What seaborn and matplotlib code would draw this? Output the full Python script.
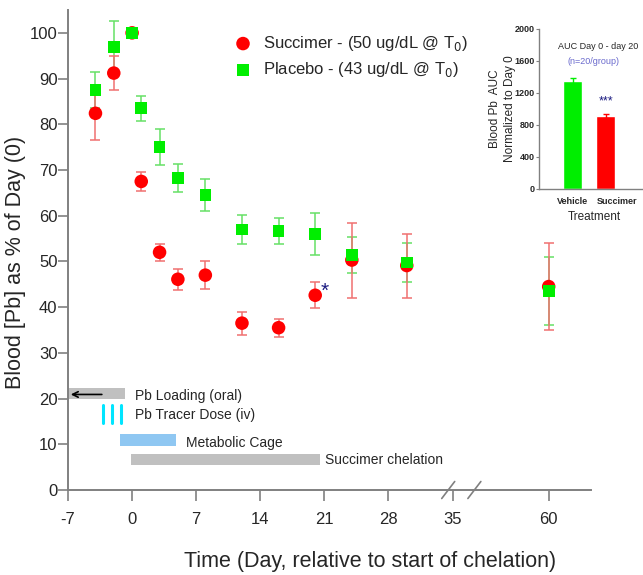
import numpy as np
import pandas as pd
import seaborn as sns
import matplotlib.pyplot as plt
import matplotlib.transforms as mtransforms
from matplotlib.patches import Rectangle

# --------------------------
# Dados
# --------------------------
days = [-4, -2, 0, 1, 3, 5, 8, 12, 16, 20, 24, 30, 60]
succ_mean = [82.4, 91.2, 100, 67.5, 52.0, 46.1, 47.0, 36.5, 35.5, 42.6, 50.3, 49.1, 44.5]
succ_err = [5.8, 3.8, 0.0, 2.1, 1.8, 2.3, 3.0, 2.5, 2.0, 2.8, 8.2, 7.0, 9.5]
plac_mean = [87.5, 96.9, 100, 83.5, 75.0, 68.2, 64.5, 57.0, 56.7, 56.0, 51.4, 49.8, 43.5]
plac_err = [4.0, 5.8, 0.0, 2.7, 4.0, 3.1, 3.5, 3.2, 2.9, 4.6, 4.0, 4.2, 7.4]

x_ticks = [-7, 0, 7, 14, 21, 28, 35, 60]
y_ticks = [0, 10, 20, 30, 40, 50, 60, 70, 80, 90, 100]

auc_groups = ['Vehicle', 'Succimer']
auc_mean = [1352, 910]
auc_err = [40, 25]

RED = '#ff0000'
GREEN = '#00ee00'
GRAY_BAR = '#c0c0c0'
AXIS_GRAY = '#808080'

sns.set_style('ticks')
plt.rcParams['font.family'] = ['Liberation Sans', 'DejaVu Sans']

# --------------------------
# Eixo x quebrado: compressão depois do dia 35
# --------------------------
K = 0.42


def fwd(x):
    x = np.asarray(x, dtype=float)
    return np.where(x <= 35, x, 35 + (x - 35) * K)


def inv(x):
    x = np.asarray(x, dtype=float)
    return np.where(x <= 35, x, 35 + (x - 35) / K)


fig = plt.figure(figsize=(6.43, 5.75), dpi=100)
ax = fig.add_axes([68 / 643, 1 - 490 / 575, 523 / 643, 480 / 575])
ax.set_xscale('function', functions=(fwd, inv))

df_s = pd.DataFrame({'day': days, 'val': succ_mean, 'err': succ_err})
df_p = pd.DataFrame({'day': days, 'val': plac_mean, 'err': plac_err})

ax.errorbar(df_p['day'], df_p['val'], yerr=df_p['err'], fmt='none',
            ecolor='#66e066', elinewidth=1.1, capsize=3.5, capthick=1.1, zorder=2)
ax.errorbar(df_s['day'], df_s['val'], yerr=df_s['err'], fmt='none',
            ecolor='#f07070', elinewidth=1.1, capsize=3.5, capthick=1.1, zorder=2)
sns.scatterplot(data=df_s, x='day', y='val', color=RED, marker='o', s=95,
                edgecolor='none', ax=ax, zorder=3,
                label='Succimer - (50 ug/dL @ T$_0$)')
sns.scatterplot(data=df_p, x='day', y='val', color=GREEN, marker='s', s=70,
                edgecolor='none', ax=ax, zorder=4,
                label='Placebo - (43 ug/dL @ T$_0$)')

ax.text(20.6, 43.5, '*', color='#1a1a80', fontsize=15, ha='left', va='center')

ax.set_xlim(-7, 71)
ax.set_ylim(0, 105)
ax.set_xticks(x_ticks)
ax.set_xticklabels([str(t) for t in x_ticks])
ax.set_yticks(y_ticks)
ax.tick_params(axis='x', labelsize=12, length=8, width=1.2, color=AXIS_GRAY, pad=8)
ax.tick_params(axis='y', labelsize=12, length=7, width=1.2, color=AXIS_GRAY, pad=0.5)
for s in ['top', 'right']:
    ax.spines[s].set_visible(False)
for s in ['left', 'bottom']:
    ax.spines[s].set_color(AXIS_GRAY)
    ax.spines[s].set_linewidth(1.4)

ax.set_xlabel('Time (Day, relative to start of chelation)', fontsize=15.5)
ax.xaxis.set_label_coords((370 - 68) / 523, -(551 - 490) / 480)
ax.set_ylabel('Blood [Pb] as % of Day (0)', fontsize=15.5)
ax.yaxis.set_label_coords((26 - 68) / 523, (490 - 262) / 480)

# marcas de quebra do eixo
for xf in [0.727, 0.777]:
    ax.plot([xf - 0.0124, xf + 0.0124], [-0.0177, 0.0177], transform=ax.transAxes,
            color=AXIS_GRAY, lw=1.2, clip_on=False)

leg = ax.legend(loc='upper left', bbox_to_anchor=(0.29, 0.964), frameon=False,
                fontsize=12, handletextpad=0.2, labelspacing=0.45, borderaxespad=0)

# --------------------------
# Linha do tempo do protocolo
# --------------------------
ax.add_patch(Rectangle((-7, 19.8), 6.2, 2.6, color=GRAY_BAR, lw=0, zorder=1))
ax.annotate('', xy=(-7, 20.9), xytext=(-3, 20.9),
            arrowprops=dict(arrowstyle='->', color='black', lw=1.2), zorder=2)
ax.text(0.3, 20.5, 'Pb Loading (oral)', fontsize=10, va='center', ha='left')

for xd in [-3.2, -2.2, -1.2]:
    ax.plot([xd, xd], [14.7, 18.6], color='#00e5ff', lw=2.2, zorder=2)
ax.text(0.3, 16.3, 'Pb Tracer Dose (iv)', fontsize=10, va='center', ha='left')

ax.add_patch(Rectangle((-1.3, 9.7), 6.1, 2.5, color='#8fc7f2', lw=0, zorder=1))
ax.text(5.9, 10.3, 'Metabolic Cage', fontsize=10, va='center', ha='left')

ax.add_patch(Rectangle((-0.1, 5.5), 20.6, 2.4, color=GRAY_BAR, lw=0, zorder=1))
ax.text(21.1, 6.5, 'Succimer chelation', fontsize=10, va='center', ha='left')

# --------------------------
# Inset: AUC
# --------------------------
ax2 = fig.add_axes([539 / 643, 1 - 189 / 575, 110 / 643, 160 / 575])
df_auc = pd.DataFrame({'grp': auc_groups, 'auc': auc_mean, 'err': auc_err})
sns.barplot(data=df_auc, x='grp', y='auc', hue='grp', palette=[GREEN, RED],
            width=0.57, ax=ax2, legend=False, saturation=1)
for i, (m, e, c) in enumerate(zip(auc_mean, auc_err, [GREEN, RED])):
    ax2.errorbar(i, m, yerr=e, fmt='none', ecolor=c, elinewidth=1, capsize=2.5)
ax2.set_xlim(-1.02, 2.3)
ax2.set_ylim(0, 2000)
ax2.set_yticks([0, 400, 800, 1200, 1600, 2000])
ax2.tick_params(axis='both', labelsize=6.5, length=2, width=0.8, color=AXIS_GRAY, pad=1)
ax2.tick_params(axis='x', length=0, pad=6, labelsize=6.5)
for lbl in ax2.get_xticklabels() + ax2.get_yticklabels():
    lbl.set_fontweight('bold')
# o rótulo "Succimer" fica um pouco deslocado à direita
xt = ax2.get_xticklabels()[1]
xt.set_transform(xt.get_transform() + mtransforms.ScaledTranslation(0.11, 0, fig.dpi_scale_trans))
for s in ['top', 'right']:
    ax2.spines[s].set_visible(False)
for s in ['left', 'bottom']:
    ax2.spines[s].set_color(AXIS_GRAY)
    ax2.spines[s].set_linewidth(1)
ax2.set_xlabel('Treatment', fontsize=8.5, labelpad=3)
ax2.set_ylabel('Blood Pb  AUC\nNormalized to Day 0', fontsize=8.5, labelpad=-1,
               linespacing=1.35)
ax2.text(0.76, 1780, 'AUC Day 0 - day 20', fontsize=6.5, ha='center', va='center')
ax2.text(0.64, 1600, '(n=20/group)', fontsize=6.5, ha='center', va='center',
         color='#6a6acd')
ax2.text(1, 1090, '***', fontsize=9, ha='center', va='center', color='#1a1a80')

fig.savefig('out.png', dpi=100)
